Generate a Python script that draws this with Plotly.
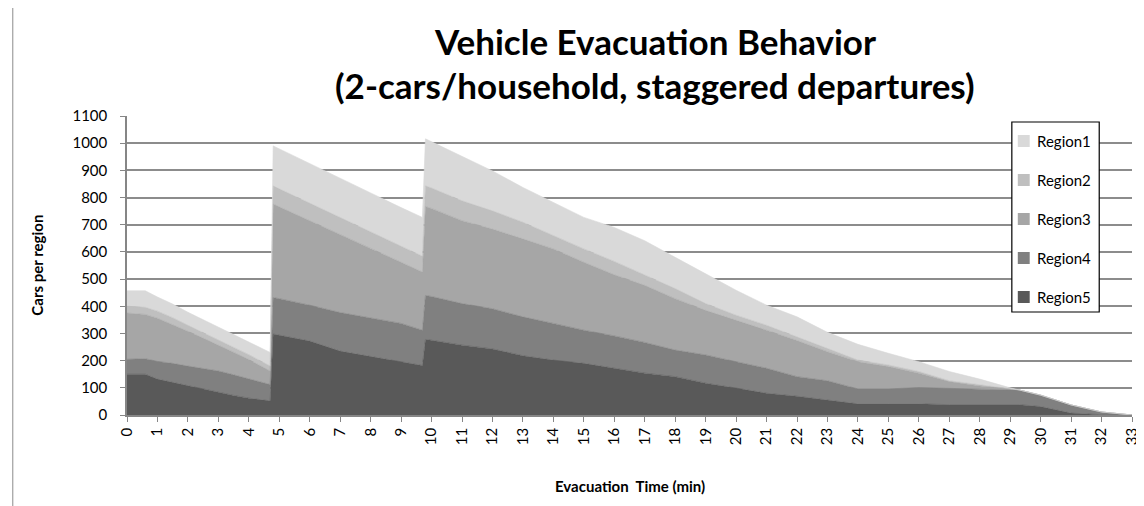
import plotly.graph_objects as go

# Evacuation time (minutes) at which the series were sampled
time_min = [0, 0.6, 1, 1.5, 2, 2.5, 3, 3.5, 4, 4.7,
            4.8, 5, 6, 7, 8, 9, 9.7,
            9.8, 10, 11, 12, 13, 14, 15, 16, 17, 18, 19, 20, 21, 22, 23,
            24, 25, 26, 27, 28, 29, 29.3, 30, 31, 32, 33]

region5 = [150, 150, 132, 120, 106, 96, 84, 72, 62, 52,
           298, 294, 272, 235, 215, 196, 182,
           278, 275, 257, 243, 218, 202, 190, 171, 154, 141, 117, 99, 80, 69, 56,
           41, 41, 41, 38, 38, 40, 38, 31, 7, 1, 0]
region4 = [55, 57, 65, 70, 74, 75, 78, 76, 72, 60,
           134, 134, 132, 142, 142, 141, 130,
           162, 161, 153, 148, 143, 135, 122, 120, 113, 98, 104, 97, 92, 72, 70,
           55, 55, 60, 61, 57, 52, 54, 42, 30, 10, 0]
region3 = [170, 163, 159, 143, 128, 112, 96, 83, 70, 50,
           344, 338, 311, 287, 256, 225, 214,
           327, 324, 305, 293, 287, 274, 250, 225, 210, 189, 164, 153, 140, 133, 107,
           100, 82, 53, 24, 12, 3, 0, 0, 0, 0, 0]
region2 = [25, 26, 26, 25, 22, 20, 18, 18, 18, 18,
           67, 66, 64, 62, 60, 58, 58,
           76, 75, 73, 67, 61, 49, 49, 49, 39, 37, 25, 18, 18, 14, 12,
           6, 6, 6, 3, 4, 3, 0, 0, 0, 0, 0]
region1 = [57, 61, 52, 50, 48, 48, 48, 45, 45, 50,
           147, 147, 146, 145, 144, 143, 143,
           173, 170, 164, 147, 128, 122, 116, 125, 125, 115, 110, 92, 74, 73, 59,
           58, 43, 36, 34, 21, 2, 0, 0, 0, 0, 0]

series_names = ["Region1", "Region2", "Region3", "Region4", "Region5"]
series_colors = ["#D9D9D9", "#BFBFBF", "#A6A6A6", "#808080", "#595959"]
series_values = [region1, region2, region3, region4, region5]

x_ticks = list(range(0, 34))
y_ticks = list(range(0, 1101, 100))

FONT = "Lato"

fig = go.Figure()
# stack from bottom (Region5) to top (Region1)
for name, color, vals in reversed(list(zip(series_names, series_colors, series_values))):
    fig.add_trace(go.Scatter(
        x=time_min, y=vals, name=name, mode="lines",
        stackgroup="one", line=dict(width=0.6, color=color),
        fillcolor=color, showlegend=False, hoverinfo="x+y+name"))

W, H = 1144, 506
L, R, T, B = 119, 13, 108, 99
pw, ph = W - L - R, H - T - B

def px_x(x):
    return (x - L) / pw

def px_y(y):
    return 1 - (y - T) / ph

shapes = []
annotations = []

# title (two lines)
annotations.append(dict(text="<b>Vehicle Evacuation Behavior</b>", xref="paper", yref="paper",
                        x=px_x(651), y=px_y(33), xanchor="center", yanchor="middle",
                        showarrow=False, font=dict(family=FONT, size=35, color="#000000")))
annotations.append(dict(text="<b>(2-cars/household, staggered departures)</b>", xref="paper", yref="paper",
                        x=px_x(651), y=px_y(77), xanchor="center", yanchor="middle",
                        showarrow=False, font=dict(family=FONT, size=35, color="#000000")))

# axis titles
annotations.append(dict(text="<b>Cars per region</b>", xref="paper", yref="paper",
                        x=px_x(28), y=px_y(257), xanchor="center", yanchor="middle",
                        textangle=-90, showarrow=False,
                        font=dict(family=FONT, size=15, color="#000000")))
annotations.append(dict(text="<b>Evacuation  Time (min)</b>", xref="paper", yref="paper",
                        x=px_x(625), y=px_y(478), xanchor="center", yanchor="middle",
                        showarrow=False, font=dict(family=FONT, size=15, color="#000000")))

# legend box drawn manually
lg_left, lg_right, lg_top, lg_bottom = 1010, 1098, 114, 304
shapes.append(dict(type="rect", xref="paper", yref="paper",
                   x0=px_x(lg_left), x1=px_x(lg_right), y0=px_y(lg_bottom), y1=px_y(lg_top),
                   line=dict(color="#000000", width=1.2), fillcolor="#FFFFFF", layer="above"))
for i, (name, color) in enumerate(zip(series_names, series_colors)):
    cy = 133 + i * 39
    shapes.append(dict(type="rect", xref="paper", yref="paper",
                       x0=px_x(1016), x1=px_x(1028), y0=px_y(cy + 6), y1=px_y(cy - 6),
                       line=dict(width=0), fillcolor=color, layer="above"))
    annotations.append(dict(text=name, xref="paper", yref="paper",
                            x=px_x(1033), y=px_y(cy), xanchor="left", yanchor="middle",
                            showarrow=False, font=dict(family=FONT, size=15, color="#000000")))

# outer chart border (left side visible)
shapes.append(dict(type="line", xref="paper", yref="paper",
                   x0=px_x(4), x1=px_x(4), y0=px_y(0), y1=px_y(506),
                   line=dict(color="#8C8C8C", width=1)))

fig.update_layout(
    width=W, height=H,
    margin=dict(l=L, r=R, t=T, b=B, pad=0),
    paper_bgcolor="#FFFFFF", plot_bgcolor="#FFFFFF",
    font=dict(family=FONT, size=15, color="#000000"),
    showlegend=False,
    shapes=shapes, annotations=annotations,
    xaxis=dict(range=[0, 33], tickmode="array", tickvals=x_ticks,
               ticktext=[str(v) for v in x_ticks], tickangle=-90,
               ticks="outside", ticklen=5, tickcolor="#868686",
               showline=True, linecolor="#868686", linewidth=1.5,
               showgrid=False, zeroline=False,
               tickfont=dict(family=FONT, size=15)),
    yaxis=dict(range=[0, 1100], tickmode="array", tickvals=y_ticks,
               ticks="outside", ticklen=5, tickcolor="#868686",
               showline=True, linecolor="#868686", linewidth=1.5,
               showgrid=True, gridcolor="#8C8C8C", gridwidth=1.5,
               zeroline=False, ticklabelstandoff=10,
               tickfont=dict(family=FONT, size=15)),
)

fig.write_html("out.html")
